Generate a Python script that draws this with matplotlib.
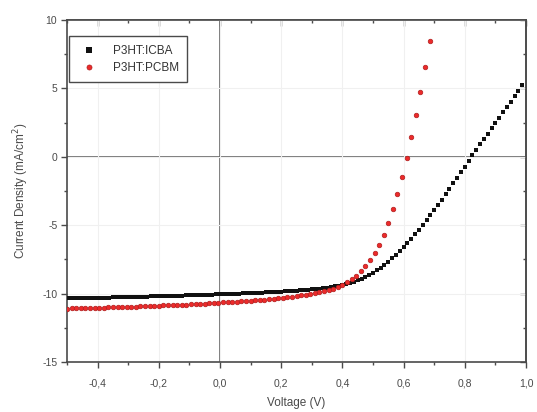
import matplotlib
matplotlib.use("Agg")
import matplotlib.pyplot as plt
from matplotlib.ticker import FuncFormatter, MultipleLocator

plt.rcParams["font.family"] = ["Liberation Sans", "DejaVu Sans"]

# P3HT:ICBA (V, mA/cm^2)
icba_v = [
    -0.5, -0.4875, -0.475, -0.4625, -0.45, -0.4375, -0.425, -0.4125, -0.4, -0.3875,
    -0.375, -0.3625, -0.35, -0.3375, -0.325, -0.3125, -0.3, -0.2875, -0.275, -0.2625,
    -0.25, -0.2375, -0.225, -0.2125, -0.2, -0.1875, -0.175, -0.1625, -0.15, -0.1375,
    -0.125, -0.1125, -0.1, -0.0875, -0.075, -0.0625, -0.05, -0.0375, -0.025, -0.0125,
    0.0, 0.0125, 0.025, 0.0375, 0.05, 0.0625, 0.075, 0.0875, 0.1, 0.1125,
    0.125, 0.1375, 0.15, 0.1625, 0.175, 0.1875, 0.2, 0.2125, 0.225, 0.2375,
    0.25, 0.2625, 0.275, 0.2875, 0.3, 0.3125, 0.325, 0.3375, 0.35, 0.3625,
    0.375, 0.3875, 0.4, 0.4125, 0.425, 0.4375, 0.45, 0.4625, 0.475, 0.4875,
    0.5, 0.5125, 0.525, 0.5375, 0.55, 0.5625, 0.575, 0.5875, 0.6, 0.6125,
    0.625, 0.6375, 0.65, 0.6625, 0.675, 0.6875, 0.7, 0.7125, 0.725, 0.7375,
    0.75, 0.7625, 0.775, 0.7875, 0.8, 0.8125, 0.825, 0.8375, 0.85, 0.8625,
    0.875, 0.8875, 0.9, 0.9125, 0.925, 0.9375, 0.95, 0.9625, 0.975, 0.9875,
]
icba_j = [
    -10.35, -10.35, -10.34, -10.34, -10.33, -10.33, -10.32, -10.32, -10.31, -10.30,
    -10.30, -10.29, -10.28, -10.28, -10.27, -10.26, -10.25, -10.25, -10.24, -10.23,
    -10.22, -10.22, -10.21, -10.20, -10.19, -10.19, -10.18, -10.17, -10.16, -10.15,
    -10.15, -10.14, -10.13, -10.12, -10.11, -10.10, -10.09, -10.08, -10.07, -10.06,
    -10.05, -10.04, -10.03, -10.02, -10.01, -10.00, -9.99, -9.98, -9.96, -9.95,
    -9.94, -9.93, -9.91, -9.90, -9.88, -9.87, -9.85, -9.83, -9.82, -9.80,
    -9.78, -9.76, -9.74, -9.72, -9.69, -9.66, -9.63, -9.60, -9.56, -9.52,
    -9.48, -9.43, -9.37, -9.30, -9.22, -9.13, -9.03, -8.92, -8.79, -8.64,
    -8.48, -8.30, -8.10, -7.89, -7.66, -7.42, -7.16, -6.89, -6.60, -6.30,
    -5.99, -5.67, -5.34, -5.00, -4.65, -4.29, -3.92, -3.54, -3.15, -2.75,
    -2.35, -1.95, -1.54, -1.13, -0.72, -0.31, 0.10, 0.50, 0.90, 1.30,
    1.70, 2.09, 2.48, 2.87, 3.26, 3.65, 4.04, 4.44, 4.84, 5.24,
]

# P3HT:PCBM
pcbm_v = [
    -0.5, -0.485, -0.47, -0.455, -0.44, -0.425, -0.41, -0.395, -0.38, -0.365,
    -0.35, -0.335, -0.32, -0.305, -0.29, -0.275, -0.26, -0.245, -0.23, -0.215,
    -0.2, -0.185, -0.17, -0.155, -0.14, -0.125, -0.11, -0.095, -0.08, -0.065,
    -0.05, -0.035, -0.02, -0.005, 0.01, 0.025, 0.04, 0.055, 0.07, 0.085,
    0.1, 0.115, 0.13, 0.145, 0.16, 0.175, 0.19, 0.205, 0.22, 0.235,
    0.25, 0.265, 0.28, 0.295, 0.31, 0.325, 0.34, 0.355, 0.37, 0.385,
    0.4, 0.415, 0.43, 0.445, 0.46, 0.475, 0.49, 0.505, 0.52, 0.535,
    0.55, 0.565, 0.58, 0.595, 0.61, 0.625, 0.64, 0.655, 0.67, 0.685,
]
pcbm_j = [
    -11.10, -11.09, -11.08, -11.07, -11.06, -11.05, -11.04, -11.03, -11.02, -11.01,
    -11.00, -10.99, -10.98, -10.97, -10.96, -10.95, -10.93, -10.92, -10.91, -10.90,
    -10.88, -10.87, -10.86, -10.84, -10.83, -10.81, -10.80, -10.78, -10.77, -10.75,
    -10.73, -10.71, -10.69, -10.67, -10.65, -10.63, -10.61, -10.59, -10.57, -10.55,
    -10.52, -10.50, -10.47, -10.44, -10.41, -10.38, -10.35, -10.31, -10.27, -10.23,
    -10.19, -10.14, -10.09, -10.04, -9.98, -9.91, -9.84, -9.76, -9.66, -9.51,
    -9.34, -9.15, -8.95, -8.70, -8.38, -8.00, -7.52, -7.00, -6.42, -5.72,
    -4.85, -3.80, -2.70, -1.45, -0.08, 1.45, 3.02, 4.72, 6.55, 8.46,
]

fig = plt.figure(figsize=(5.37, 4.12), dpi=100)
ax = fig.add_axes([0.1248, 0.1214, 0.8547, 0.8301])

grey = "#4a4a4a"
ax.grid(True, color="#f0f0f0", lw=0.8)
ax.axhline(0, color="#555555", lw=1.1, zorder=1)
ax.axvline(0, color="#555555", lw=1.1, zorder=1)

ax.plot(icba_v, icba_j, "s", color="#111111", ms=3.3, mew=0, label="P3HT:ICBA", zorder=3)
ax.plot(pcbm_v, pcbm_j, "o", color="#ec2a2a", mec="#b01e1e", ms=3.3, mew=0.5,
        label="P3HT:PCBM", zorder=4)

ax.set_xlim(-0.5, 1.0)
ax.set_ylim(-15, 10)
ax.xaxis.set_major_locator(MultipleLocator(0.2))
ax.xaxis.set_minor_locator(MultipleLocator(0.1))
ax.yaxis.set_major_locator(MultipleLocator(5))
ax.yaxis.set_minor_locator(MultipleLocator(2.5))
ax.xaxis.set_major_formatter(FuncFormatter(lambda v, p: f"{v:.1f}".replace(".", ",")))
ax.yaxis.set_major_formatter(FuncFormatter(lambda v, p: f"{v:.0f}"))

ax.tick_params(which="major", direction="out", length=4, width=1, color=grey,
               labelcolor=grey, labelsize=7.5, pad=8)
ax.tick_params(which="minor", direction="out", length=2.5, width=1, color=grey)
ax.tick_params(axis="y", which="major", pad=3)

for side in ("top", "right"):
    if side == "top":
        sec = ax.secondary_xaxis("top")
        sec.xaxis.set_major_locator(MultipleLocator(0.2))
        sec.xaxis.set_minor_locator(MultipleLocator(0.1))
        sec.set_xticklabels([])
    else:
        sec = ax.secondary_yaxis("right")
        sec.yaxis.set_major_locator(MultipleLocator(5))
        sec.yaxis.set_minor_locator(MultipleLocator(2.5))
        sec.set_yticklabels([])
    sec.tick_params(which="major", direction="in", length=4, width=1, color=grey)
    sec.tick_params(which="minor", direction="in", length=2.5, width=1, color=grey)
    for s in sec.spines.values():
        s.set_color(grey)
        s.set_linewidth(1.2)

for s in ax.spines.values():
    s.set_color(grey)
    s.set_linewidth(1.2)

ax.set_xlabel("Voltage (V)", color=grey, fontsize=8.5, labelpad=6)
ax.set_ylabel("Current Density (mA/cm$^2$)", color=grey, fontsize=8.5, labelpad=8)

leg = ax.legend(loc="upper left", bbox_to_anchor=(0.004, 0.952), borderaxespad=0,
                fontsize=8.5, fancybox=False, edgecolor=grey, framealpha=1,
                handletextpad=1.0, borderpad=0.7, labelspacing=0.45, markerscale=1.1)
leg.get_frame().set_linewidth(1.0)
for t in leg.get_texts():
    t.set_color("#333333")

fig.savefig("out.png", dpi=100)
